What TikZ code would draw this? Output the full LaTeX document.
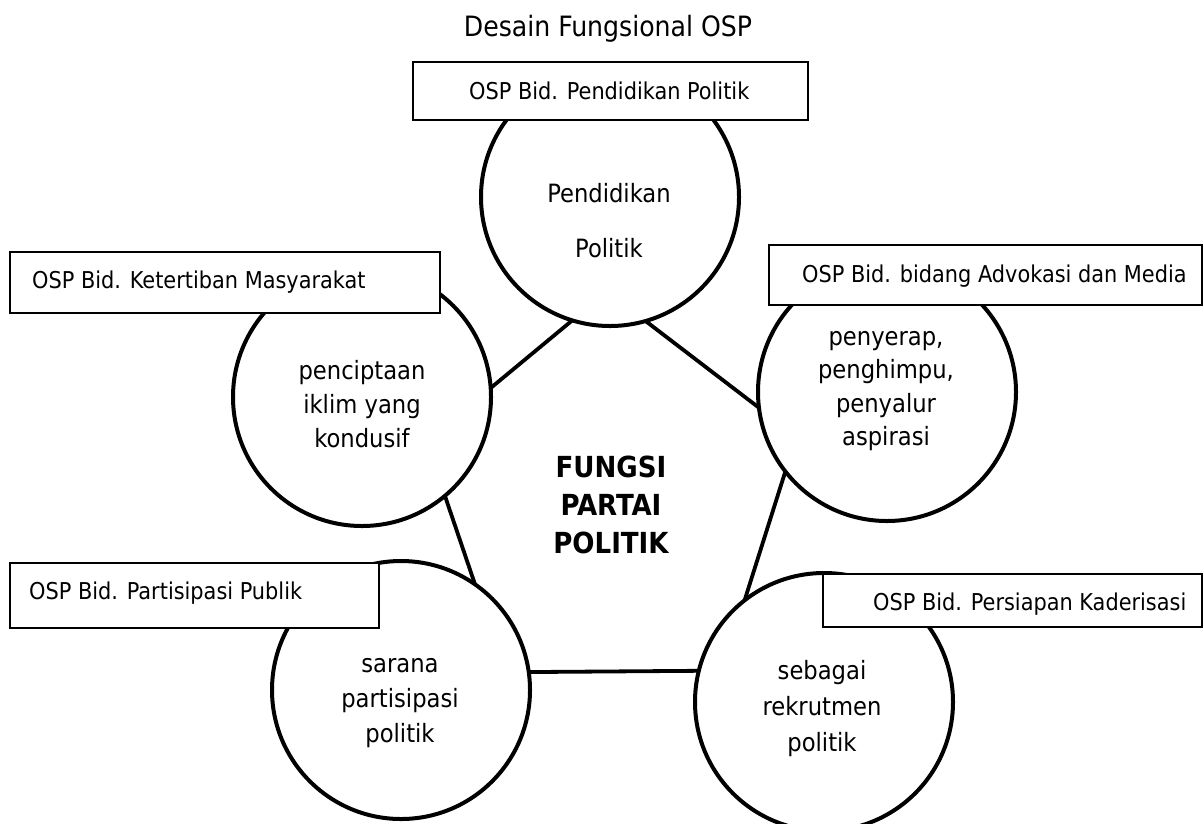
\documentclass[tikz,border=0pt]{standalone}
\usepackage{fontspec}
\setmainfont{DejaVu Sans Condensed}
\begin{document}
\begin{tikzpicture}[x=1pt,y=-1pt,
  ring/.style={circle,draw,line width=4pt,minimum size=258pt,inner sep=0pt,outer sep=0pt},
  link/.style={line width=3.8pt},
  tagbox/.style={draw,fill=white,line width=1.8pt,inner sep=0pt,outer sep=0pt,anchor=north west},
  tagtext/.style={anchor=base west,inner sep=0pt,font=\fontsize{23.2}{28}\selectfont},
  ringtext/.style={align=center,inner sep=0pt}
]
\useasboundingbox (0,0) rectangle (1204,823);
\fill[white] (0,0) rectangle (1204,823);

% title
\node[anchor=base,inner sep=0pt,font=\fontsize{28}{34}\selectfont] (title) at (608,36) {Desain Fungsional OSP};

% circles
\node[ring] (ctop) at (610,197) {};
\node[ring] (cleft) at (362,397) {};
\node[ring] (cright) at (887,392) {};
\node[ring] (cbl) at (401,690) {};
\node[ring] (cbr) at (824,702) {};

% connectors
\draw[link] (ctop.253.6) -- (cleft.4);
\draw[link] (ctop.286.5) -- (cright.187);
\draw[link] (cleft.310) -- (cbl.55.6);
\draw[link] (cright.218) -- (cbr.128.5);
\draw[link] (cbl.8.5) -- (cbr.166);

% circle texts
\node[ringtext,font=\fontsize{25.2}{55}\selectfont] (ttop) at (609,220.5) {Pendidikan\\Politik};
\node[ringtext,font=\fontsize{25.2}{34}\selectfont] (tleft) at (362,404) {penciptaan\\iklim yang\\kondusif};
\node[ringtext,font=\fontsize{25.2}{33.3}\selectfont] (tright) at (886,391) {penyerap,\\penghimpu,\\penyalur\\aspirasi};
\node[ringtext,font=\fontsize{25.2}{35}\selectfont] (tbl) at (400,703) {sarana\\partisipasi\\politik};
\node[ringtext,font=\fontsize{25.2}{36}\selectfont] (tbr) at (822,709) {sebagai\\rekrutmen\\politik};

% center text
\node[ringtext,font=\fontsize{29}{38}\selectfont\bfseries] (center) at (611,505) {FUNGSI\\PARTAI\\POLITIK};

% boxes
\node[tagbox,minimum width=395pt,minimum height=58pt] (btop) at (413,62) {};
\node[tagtext] (ltop) at (469,99) {OSP Bid. Pendidikan Politik};
\node[tagbox,minimum width=430pt,minimum height=61pt] (bleft) at (10,252) {};
\node[tagtext] (lleft) at (32,288) {OSP Bid. Ketertiban Masyarakat};
\node[tagbox,minimum width=433pt,minimum height=60pt] (bright) at (769,245) {};
\node[tagtext] (lright) at (802,282) {OSP Bid. bidang Advokasi dan Media};
\node[tagbox,minimum width=369pt,minimum height=65pt] (bbl) at (10,563) {};
\node[tagtext] (lbl) at (29,599) {OSP Bid. Partisipasi Publik};
\node[tagbox,minimum width=379pt,minimum height=53pt] (bbr) at (823,574) {};
\node[tagtext] (lbr) at (873,610) {OSP Bid. Persiapan Kaderisasi};
\end{tikzpicture}
\end{document}
